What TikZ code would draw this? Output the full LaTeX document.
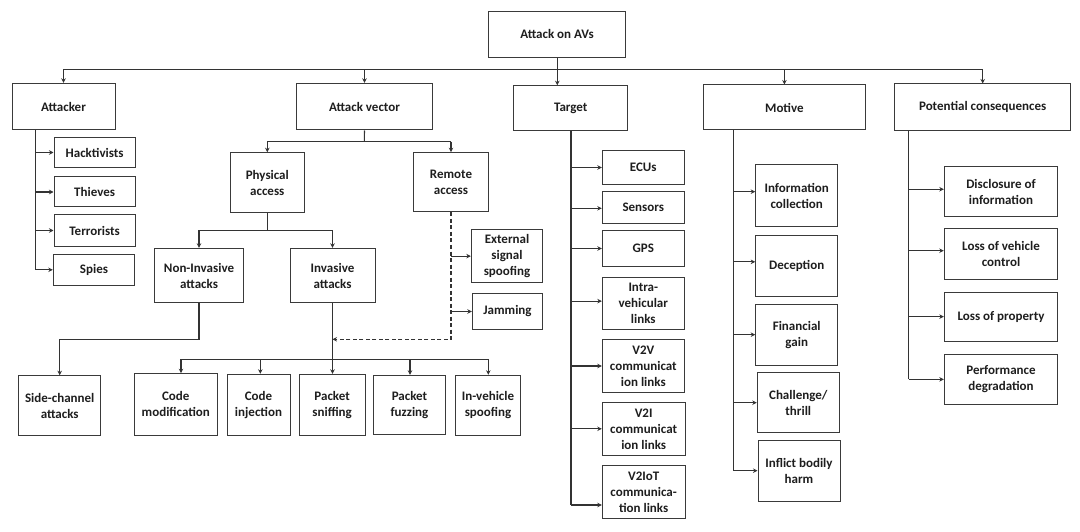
\documentclass[tikz,border=0pt]{standalone}
\usepackage{fontspec}
\setmainfont{Carlito}
\usetikzlibrary{arrows.meta}
\definecolor{ln}{HTML}{333333}
\definecolor{bd}{HTML}{3A3A3A}
\definecolor{tx}{HTML}{1E1E1E}
\tikzset{
  box/.style={draw=bd, line width=1pt, inner sep=0pt, align=center, text=tx,
    font=\fontsize{13}{16}\selectfont\bfseries},
  arr/.style={draw=ln, line width=1.1pt, -{Stealth[length=4.5pt,width=4.5pt]}},
  ln/.style={draw=ln, line width=1.1pt},
  dsh/.style={dash pattern=on 4pt off 2.5pt}
}
\newcommand\bx[6]{\node[box, minimum width={(#4)-(#2)}, minimum height={(#5)-(#3)}] (#1) at ({((#2)+(#4))/2},{((#3)+(#5))/2}) {#6};}
\begin{document}
\begin{tikzpicture}[x=1pt,y=-1pt]
\useasboundingbox[fill=white] (0,0) rectangle (1080,532);
% top level
\bx{root}{488.7}{11.3}{625.3}{57.3}{Attack on AVs}
\bx{attacker}{12}{83.3}{115}{130}{Attacker}
\bx{av}{296.7}{83.3}{432.3}{130}{Attack vector}
\bx{target}{513.7}{85.7}{627.7}{130.3}{Target}
\bx{motive}{703.5}{85}{865.3}{130}{Motive}
\bx{pc}{894.7}{84}{1070.7}{130.3}{Potential consequences}
% attacker
\bx{hack}{54}{137.3}{135.3}{167.7}{Hacktivists}
\bx{thieves}{54}{177}{135.3}{207}{Thieves}
\bx{terror}{54}{214.3}{135.3}{246.7}{Terrorists}
\bx{spies}{53.3}{254.3}{134.7}{285.3}{Spies}
% attack vector
\bx{phys}{230.3}{152.7}{304.3}{212.7}{Physical\\access}
\bx{remote}{413.3}{152.7}{488.7}{212}{Remote\\access}
\bx{noninv}{154.3}{248.3}{243.7}{302.7}{Non-Invasive\\attacks}
\bx{inv}{290}{248.3}{375}{302.7}{Invasive\\attacks}
\bx{ext}{471.3}{230}{542.7}{282.3}{External\\signal\\spoofing}
\bx{jam}{472.3}{293.7}{542.7}{329.3}{Jamming}
\bx{side}{18.7}{375.7}{100.7}{435.3}{Side-channel\\attacks}
\bx{codemod}{134.3}{373.7}{217.3}{435}{Code\\modification}
\bx{codeinj}{227}{374.3}{290}{435.7}{Code\\injection}
\bx{sniff}{299.3}{374.3}{365}{435.3}{Packet\\sniffing}
\bx{fuzz}{373.3}{375.3}{445.7}{434.3}{Packet\\fuzzing}
\bx{invsp}{455.7}{375.3}{520.3}{435.7}{In-vehicle\\spoofing}
% target
\bx{ecus}{602.3}{150.7}{684.3}{184.3}{ECUs}
\bx{sensors}{602.3}{191.3}{684.3}{223.3}{Sensors}
\bx{gps}{602.3}{231}{684.3}{266}{GPS}
\bx{intra}{602.3}{277}{684.3}{329.3}{Intra-\\vehicular\\links}
\bx{v2v}{602.3}{339.3}{684.3}{392.7}{V2V\\communicat\\ion links}
\bx{v2i}{602.3}{402.3}{685}{455.3}{V2I\\communicat\\ion links}
\bx{v2iot}{602.3}{465.3}{685}{518.3}{V2IoT\\communica-\\tion links}
% motive
\bx{info}{755.7}{164.3}{837.7}{227}{Information\\collection}
\bx{decep}{755.7}{236}{837.7}{296.3}{Deception}
\bx{fin}{755.7}{304.3}{837.7}{365}{Financial\\gain}
\bx{chal}{757.3}{372.7}{839.3}{432.7}{Challenge/\\thrill}
\bx{harm}{758}{440.3}{840}{501}{Inflict bodily\\harm}
% consequences
\bx{disc}{944.3}{167}{1057.7}{216.3}{Disclosure of\\information}
\bx{lvc}{944.3}{228.7}{1057.7}{279.3}{Loss of vehicle\\control}
\bx{lop}{944.3}{292}{1057.7}{341.3}{Loss of property}
\bx{perf}{944.3}{354.7}{1057.7}{404}{Performance\\degradation}
% coordinates
\coordinate (bus) at (557.3,69.3);
\coordinate (atkS) at (35.3,0);
\coordinate (tgS) at (571,0);
\coordinate (mS) at (733.3,0);
\coordinate (pcS) at (908.7,0);
\coordinate (avbus) at (364.3,141.7);
\coordinate (physbus) at (267.3,230.3);
\coordinate (nibend) at (199,339.3);
\coordinate (dj) at (inv.south |- nibend);
\coordinate (cmx) at (181,359.3);
\coordinate (cix) at (260.3,359.3);
\coordinate (fzx) at (410,359.3);
\coordinate (ivx) at (488.3,359.3);
\coordinate (sensA) at ([yshift=-1pt]sensors.west);
\coordinate (intraA) at ([yshift=2pt]intra.west);
\coordinate (iotA) at ([yshift=-13.2pt]v2iot.west);
\coordinate (infoA) at ([yshift=4pt]info.west);
\coordinate (decA) at ([yshift=4.3pt]decep.west);
\coordinate (discA) at ([yshift=2.4pt]disc.west);
\coordinate (lvcA) at ([yshift=3.3pt]lvc.west);
% top bus
\draw[ln] (root.south -| bus) -- (bus);
\draw[ln] (bus -| attacker.north) -- (bus -| pc.north);
\draw[arr] (bus -| attacker.north) -- (attacker.north);
\draw[arr] (bus -| av.north) -- (av.north);
\draw[arr] (bus) -- (target.north -| bus);
\draw[arr] (bus -| motive.north) -- (motive.north);
\draw[arr] (bus -| pc.north) -- (pc.north);
% attacker
\draw[ln] (attacker.south -| atkS) -- (spies.west -| atkS);
\foreach \n in {hack,thieves,terror,spies}
  \draw[arr] (\n.west -| atkS) -- (\n.west);
% attack vector
\draw[ln] (av.south) -- (avbus);
\draw[ln] (avbus -| phys.north) -- (avbus -| remote.north);
\draw[arr] (avbus -| phys.north) -- (phys.north);
\draw[arr] (avbus -| remote.north) -- (remote.north);
\draw[ln] (phys.south) -- (physbus);
\draw[ln] (physbus -| noninv.north) -- (physbus -| inv.north);
\draw[arr] (physbus -| noninv.north) -- (noninv.north);
\draw[arr] (physbus -| inv.north) -- (inv.north);
\draw[arr] (noninv.south) -- (nibend) -| (side.north);
\draw[arr] (inv.south) -- (sniff.north -| inv.south);
\draw[ln] (cmx) -- (ivx);
\draw[arr] (cmx) -- (codemod.north -| cmx);
\draw[arr] (cix) -- (codeinj.north -| cix);
\draw[arr] (fzx) -- (fuzz.north -| fzx);
\draw[arr] (ivx) -- (invsp.north -| ivx);
\draw[arr,dsh] (remote.south) |- (dj);
\draw[arr] (remote.south |- ext.west) -- (ext.west);
\draw[arr] (remote.south |- jam.west) -- (jam.west);
% target
\draw[ln] (target.south -| tgS) -- (iotA -| tgS);
\foreach \n in {ecus.west,sensA,gps.west,intraA,v2v.west,v2i.west,iotA}
  \draw[arr] (\n -| tgS) -- (\n);
% motive
\draw[ln] (motive.south -| mS) -- (harm.west -| mS);
\foreach \n in {infoA,decA,fin.west,chal.west,harm.west}
  \draw[arr] (\n -| mS) -- (\n);
% consequences
\draw[ln] (pc.south -| pcS) -- (perf.west -| pcS);
\foreach \n in {discA,lvcA,lop.west,perf.west}
  \draw[arr] (\n -| pcS) -- (\n);
\end{tikzpicture}
\end{document}
